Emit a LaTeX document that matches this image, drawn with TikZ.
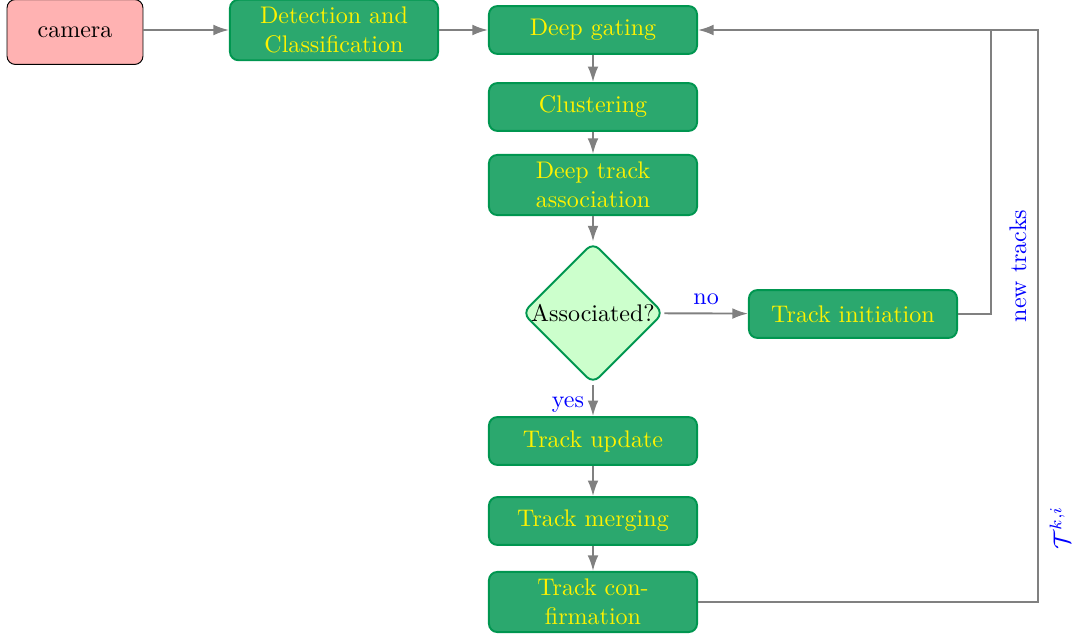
\documentclass[tikz,border=0pt]{standalone}
\usetikzlibrary{shapes.geometric,arrows.meta}
\definecolor{boxfill}{RGB}{43,168,110}
\definecolor{boxdraw}{RGB}{0,150,80}
\begin{document}
\begin{tikzpicture}[x=0.01464cm,y=-0.01464cm,
  proc/.style={rectangle, rounded corners=3.5pt, draw=boxdraw, fill=boxfill,
    line width=0.8pt, text=yellow, text width=2.55cm, align=center,
    minimum width=3.045cm, minimum height=0.70cm, inner ysep=3pt},
  decide/.style={diamond, aspect=1, inner sep=0pt, rounded corners=3.5pt,
    draw=boxdraw, fill=green!20, line width=0.8pt},
  cambox/.style={rectangle, rounded corners=3.5pt, draw=black, fill=red!30,
    minimum width=1.99cm, minimum height=0.95cm},
  conn/.style={draw=gray, line width=0.8pt},
  arr/.style={conn, -{Latex[length=6.5pt,width=4.5pt]}},
  lbl/.style={text=blue}]
\useasboundingbox (0,0) rectangle (1073,636);
\node[cambox] (cam) at (75,32) {camera};
\node[proc] (det) at (334,30) {Detection and Classification};
\node[proc] (gate) at (593,30) {Deep gating};
\node[proc] (clus) at (593,107) {Clustering};
\node[proc] (assoc) at (593,185) {Deep track association};
\node[decide] (dia) at (593,313) {Associated?};
\node[proc] (init) at (853,314) {Track initiation};
\node[proc] (upd) at (593,441) {Track update};
\node[proc] (merge) at (593,521) {Track merging};
\node[proc] (conf) at (593,602) {Track confirmation};
\coordinate (j1) at (991,30);
\coordinate (j2) at (1038,30);
\draw[arr] (cam.east |- det) -- (det);
\draw[arr] (det) -- (gate);
\draw[arr] (gate) -- (clus);
\draw[arr] (clus) -- (assoc);
\draw[arr] (assoc) -- (dia);
\draw[arr] (dia) -- node[lbl, above] {no} (init);
\draw[arr] (dia) -- node[lbl, left, pos=0.62] {yes} (upd);
\draw[arr] (upd) -- (merge);
\draw[arr] (merge) -- (conf);
\draw[conn] (init.east) -| (j1);
\draw[arr] (conf.east) -| (j2) -- (gate.east);
\node[lbl, rotate=90] (nt) at (1018,266) {new tracks};
\node[lbl, rotate=90] (tk) at (1060,528) {$\mathcal{T}^{k,i}$};
\end{tikzpicture}
\end{document}
